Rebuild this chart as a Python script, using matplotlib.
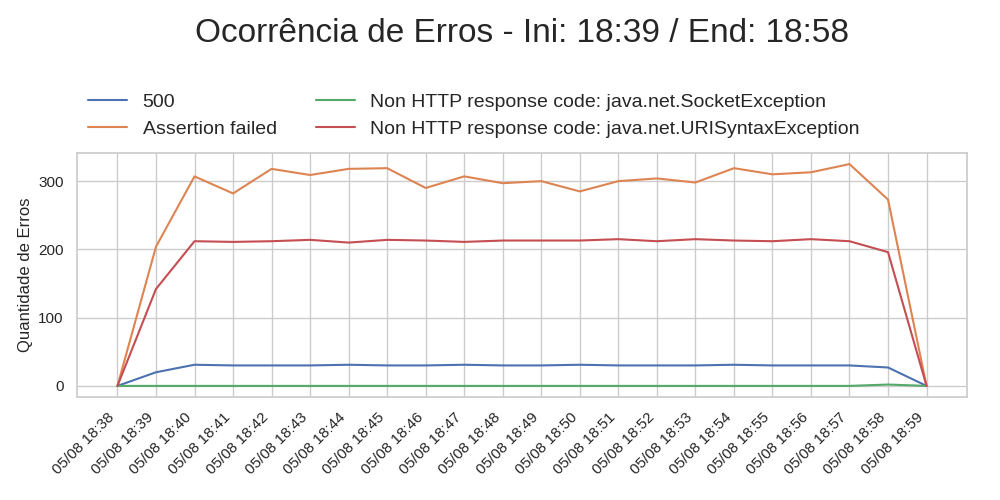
import matplotlib
matplotlib.use("Agg")
import matplotlib.pyplot as plt
import seaborn as sns

minutes = ["05/08 18:%02d" % m for m in range(38, 60)]
err_500 = [0, 20, 31, 30, 30, 30, 31, 30, 30, 31, 30, 30, 31, 30, 30, 30, 31, 30, 30, 30, 27, 0]
assertion = [0, 204, 307, 282, 318, 309, 318, 319, 290, 307, 297, 300, 285, 300, 304, 298, 319, 310, 313, 325, 273, 0]
socket_exc = [0, 0, 0, 0, 0, 0, 0, 0, 0, 0, 0, 0, 0, 0, 0, 0, 0, 0, 0, 0, 2, 0]
uri_exc = [0, 142, 212, 211, 212, 214, 210, 214, 213, 211, 213, 213, 213, 215, 212, 215, 213, 212, 215, 212, 196, 0]

sns.set_theme(style="whitegrid")
plt.rcParams['font.family'] = ['Liberation Sans', 'DejaVu Sans']

fig, ax = plt.subplots(figsize=(10, 5), dpi=100)
ax.plot(minutes, err_500, label="500")
ax.plot(minutes, assertion, label="Assertion failed")
ax.plot(minutes, socket_exc, label="Non HTTP response code: java.net.SocketException")
ax.plot(minutes, uri_exc, label="Non HTTP response code: java.net.URISyntaxException")
ax.set_ylabel("Quantidade de Erros")
plt.setp(ax.get_xticklabels(), rotation=45, ha="right")
ax.legend(loc="lower left", bbox_to_anchor=(-0.007, 0.99), ncol=2, frameon=False, fontsize=14)
fig.suptitle("Ocorrência de Erros - Ini: 18:39 / End: 18:58", fontsize=24, x=0.522, y=0.965)
fig.subplots_adjust(left=0.077, right=0.967, top=0.694, bottom=0.206)
fig.savefig("out.png")
